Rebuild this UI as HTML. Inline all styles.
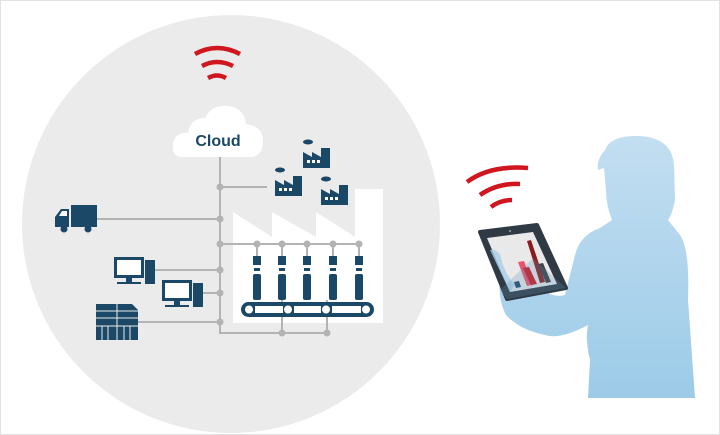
<!DOCTYPE html>
<html><head><meta charset="utf-8"><style>
html,body{margin:0;padding:0;background:#fff}
svg{display:block}
</style></head><body>
<svg width="720" height="435" viewBox="0 0 720 435" xmlns="http://www.w3.org/2000/svg">
<defs>
<linearGradient id="pg" x1="0" y1="0" x2="0" y2="1">
<stop offset="0" stop-color="#c3def1"/><stop offset="1" stop-color="#9ccbe8"/>
</linearGradient>
</defs>
<rect x="0.5" y="0.5" width="719" height="434" fill="#fff" stroke="#e2e2e2"/>
<circle cx="231" cy="224" r="209" fill="#ebebeb"/>
<!-- top wifi -->
<g fill="none" stroke="#d0161e" stroke-width="4.5" stroke-linecap="butt">
<path d="M195,54 Q217,42 240,54"/>
<path d="M202,66 Q217,58 233,66"/>
<path d="M208,78 Q217,73 226,78"/>
</g>
<!-- cloud -->
<path d="M182,157 Q172,157 173,145 Q174,132 188,133 Q190,118 205,118 Q212,104 228,106 Q244,108 246,124 Q262,126 263,140 Q263,157 250,157 Z" fill="#fff"/>
<text x="218" y="146" text-anchor="middle" font-family="Liberation Sans, sans-serif" font-weight="bold" font-size="16" fill="#1b4866">Cloud</text>
<!-- factory white -->
<path d="M233,212 L272,237 L272,212 L316,237 L316,212 L355,237 L355,189 L383,189 L383,323 L233,323 Z" fill="#fff"/>
<!-- lines -->
<g stroke="#b3b3b3" stroke-width="2" fill="none">
<path d="M220,157 V333 H327"/>
<path d="M220,187 H267"/>
<path d="M97,219 H220"/>
<path d="M220,244 H360"/>
<path d="M155,270 H220"/>
<path d="M200,293 H220"/>
<path d="M138,322 H220"/>
<path d="M282,300 V333 M327,300 V333"/>
<path d="M257,244 V256 M282,244 V256 M307,244 V256 M333,244 V256 M359,244 V256"/>
</g>
<g fill="#b3b3b3">
<circle cx="220" cy="187" r="3.5"/><circle cx="220" cy="219" r="3.5"/><circle cx="220" cy="244" r="3.5"/>
<circle cx="220" cy="270" r="3.5"/><circle cx="220" cy="293" r="3.5"/><circle cx="220" cy="322" r="3.5"/>
<circle cx="257" cy="244" r="3.5"/><circle cx="282" cy="244" r="3.5"/><circle cx="307" cy="244" r="3.5"/><circle cx="333" cy="244" r="3.5"/><circle cx="359" cy="244" r="3.5"/>
<circle cx="282" cy="333" r="3.5"/><circle cx="327" cy="333" r="3.5"/>
</g>
<!-- robots -->
<g fill="#1b4866">
<g id="rb"><rect x="253" y="256" width="8" height="9"/><rect x="254" y="268" width="6" height="3"/><rect x="253" y="274" width="8" height="26" rx="2"/></g>
<use href="#rb" x="25"/><use href="#rb" x="50"/><use href="#rb" x="76"/><use href="#rb" x="102"/>
<rect x="241" y="302" width="133" height="15" rx="7.5"/>
</g>
<g fill="#fff">
<circle cx="249" cy="309.5" r="4"/><circle cx="288" cy="309.5" r="4"/><circle cx="326" cy="309.5" r="4"/><circle cx="366" cy="309.5" r="4"/>
<rect x="255" y="306" width="28" height="7"/><rect x="294" y="306" width="27" height="7"/><rect x="332" y="306" width="29" height="7"/>
</g>
<!-- small factories -->
<g fill="#1b4866">
<g id="sf"><ellipse cx="280" cy="170" rx="5" ry="2.5"/><path d="M275,196 V180 L284,185 V180 L293,185 V176 L302,176 V196 Z"/></g>
<use href="#sf" x="28" y="-28"/><use href="#sf" x="46" y="9"/>
</g>
<g fill="#fff">
<rect x="279" y="188" width="3" height="3"/><rect x="284" y="188" width="3" height="3"/><rect x="289" y="188" width="3" height="3"/>
<rect x="307" y="160" width="3" height="3"/><rect x="312" y="160" width="3" height="3"/><rect x="317" y="160" width="3" height="3"/>
<rect x="325" y="197" width="3" height="3"/><rect x="330" y="197" width="3" height="3"/><rect x="335" y="197" width="3" height="3"/>
</g>
<!-- truck -->
<g fill="#1b4866">
<rect x="71" y="205" width="26" height="22"/>
<path d="M55,227 V217 L61,209 H69 V227 Z"/>
<circle cx="64" cy="229" r="3.5"/><circle cx="88" cy="229" r="3.5"/>
</g>
<path d="M59,216 L62,211 H67 V216 Z" fill="#fff"/>
<!-- computers -->
<g fill="#1b4866">
<rect x="114" y="257" width="30" height="21"/><rect x="126" y="278" width="6" height="5"/><rect x="117" y="282" width="24" height="2"/>
<rect x="145" y="260" width="10" height="24"/>
<rect x="162" y="280" width="30" height="21"/><rect x="174" y="301" width="6" height="5"/><rect x="165" y="305" width="24" height="2"/>
<rect x="193" y="283" width="10" height="24"/>
<path d="M96,304 H132 L138,310 V340 H96 Z"/>
</g>
<rect x="117" y="260" width="24" height="15" fill="#fff"/>
<rect x="165" y="283" width="24" height="15" fill="#fff"/>
<g stroke="#ebebeb" stroke-width="1">
<path d="M117,304 V340 M96,311 H138 M96,318 H138 M96,326 H138 M102,326 V340 M108,326 V340 M124,326 V340 M130,326 V340"/>
</g>
<!-- person -->
<path d="M605,150 Q610,135 640,136 Q672,138 674,165 L675,200 Q672,215 668,220 L680,235 Q690,250 688,300 L695,398 L588,398 L590,360 Q585,340 588,325 Q560,340 545,335 Q520,330 506,315 Q498,300 500,280 L498,255 Q505,248 515,255 L525,275 Q548,300 565,295 L575,255 Q580,235 600,228 L612,220 Q606,205 606,190 L604,168 L598,170 Q596,160 605,150 Z" fill="url(#pg)"/>
<!-- tablet -->
<path d="M480,232 L537,225 L566,288 L507,299 Z" fill="#2f3a44" stroke="#2f3a44" stroke-width="4" stroke-linejoin="round"/>
<path d="M487,238 L533,232 L557,284 L510,292 Z" fill="#e9e9ea"/>
<path d="M490,250 Q500,248 502,262 Q506,275 515,285 L510,292 Z" fill="#a9cde6" opacity="0.8"/>
<path d="M527,241 L531,240 L545,282 L540,283 Z" fill="#8a1c1f"/>
<path d="M518,262 L524,261 L533,285 L527,286 Z" fill="#e8536a"/>
<path d="M523,268 L529,267 L537,284 L531,285 Z" fill="#d0161e"/>
<path d="M538,264 L543,263 L551,282 L546,283 Z" fill="#3a3f45"/>
<path d="M514,282 L519,281 L521,287 L516,288 Z" fill="#1b4866"/>
<path d="M533,258 L566,288 L507,299 L500,290 Z" fill="#5f95b8" opacity="0.25"/>
<circle cx="510" cy="231" r="1" fill="#9aa"/>
<!-- tablet wifi -->
<g fill="none" stroke="#d0161e" stroke-width="4.5">
<path d="M467,182 Q490,165 528,168"/>
<path d="M480,195 Q497,183 520,184"/>
<path d="M491,207 Q500,200 512,200"/>
</g>
</svg>
</body></html>
